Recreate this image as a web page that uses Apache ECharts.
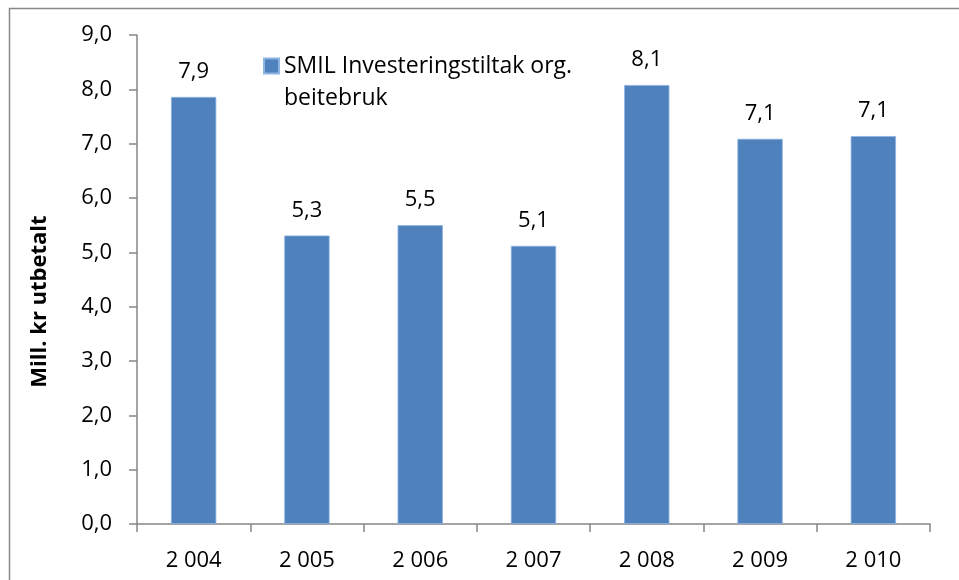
<!DOCTYPE html>
<html>
<head>
<meta charset="utf-8">
<script src="https://cdn.jsdelivr.net/npm/echarts@6/dist/echarts.min.js"></script>
<style>
  html, body { margin: 0; padding: 0; background: #fff; }
  #chart { width: 959px; height: 580px; }
</style>
</head>
<body>
<div id="chart"></div>
<script>
// SMIL – utbetalt per år (mill. kr)
const years = ['2 004', '2 005', '2 006', '2 007', '2 008', '2 009', '2 010'];
const utbetalt = [7.86, 5.31, 5.50, 5.12, 8.08, 7.09, 7.14];
const seriesName = 'SMIL Investeringstiltak org. beitebruk';
const yTicks = { min: 0, max: 9, step: 1 };

const FONT = 'Open Sans';
const AXIS = '#868686';
const fmt = v => v.toFixed(1).replace('.', ',');

const chart = echarts.init(document.getElementById('chart'));
chart.setOption({
    backgroundColor: '#fff',
    animation: false,
    textStyle: { fontFamily: FONT },
    grid: { left: 137, right: 29, top: 35, bottom: 56 },
    legend: {
        data: [seriesName],
        left: 263, top: 18, padding: 0,
        icon: 'rect', itemWidth: 15, itemHeight: 15,
        // leading empty line keeps the marker level with the first text line
        formatter: () => '\nSMIL Investeringstiltak org.\nbeitebruk',
        textStyle: { fontFamily: FONT, fontSize: 23, color: '#000', lineHeight: 32 }
    },
    xAxis: {
        type: 'category', data: years,
        axisLine: { lineStyle: { color: AXIS, width: 1.5 } },
        axisTick: { show: true, length: 8, lineStyle: { color: AXIS, width: 1.5 } },
        axisLabel: { color: '#000', fontSize: 22, margin: 26, fontFamily: FONT }
    },
    yAxis: {
        type: 'value', min: yTicks.min, max: yTicks.max, interval: yTicks.step,
        name: 'Mill. kr utbetalt', nameLocation: 'middle', nameGap: 86,
        nameTextStyle: { fontFamily: FONT, fontSize: 22, fontWeight: 'bold', color: '#000', padding: [0, 44, 0, 0] },
        axisLine: { show: true, lineStyle: { color: AXIS, width: 1.5 } },
        axisTick: { show: true, length: 8, lineStyle: { color: AXIS, width: 1.5 } },
        splitLine: { show: false },
        axisLabel: { color: '#000', fontSize: 22, margin: 25, fontFamily: FONT, formatter: v => fmt(v) }
    },
    series: [{
        name: seriesName, type: 'bar', data: utbetalt, barWidth: '40%',
        itemStyle: { color: '#4F81BD', borderColor: '#8EB4E3', borderWidth: 0.8 },
        label: { show: true, position: 'top', distance: 14, color: '#000', fontSize: 22, fontFamily: FONT,
                 formatter: p => fmt(p.value) }
    }],
    graphic: [{
        type: 'rect', silent: true, z: -1,
        shape: { x: 9.5, y: 8.5, width: 1000, height: 700 },
        style: { fill: 'none', stroke: '#888', lineWidth: 1.5 }
    }]
});
</script>
</body>
</html>
